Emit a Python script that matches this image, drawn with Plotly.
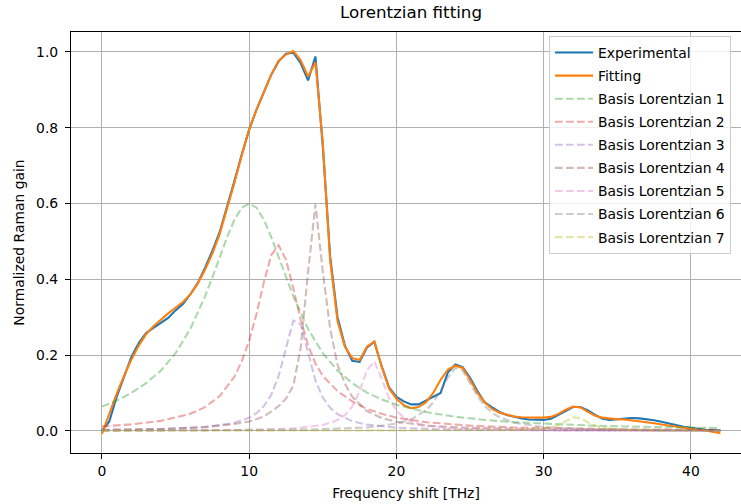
import plotly.graph_objects as go

# ---------------- data ----------------
freq = [0.0, 0.5, 1.0, 1.5, 2.0, 2.5, 3.0, 3.5, 4.0, 4.5,
        5.0, 5.5, 6.0, 6.5, 7.0, 7.5, 8.0, 8.5, 9.0, 9.5,
        10.0, 10.5, 11.0, 11.5, 12.0, 12.5, 13.0, 13.5, 14.0, 14.5,
        15.0, 15.5, 16.0, 16.5, 17.0, 17.5, 18.0, 18.5, 19.0, 19.5,
        20.0, 20.5, 21.0, 21.5, 22.0, 22.5, 23.0, 23.5, 24.0, 24.5,
        25.0, 25.5, 26.0, 26.5, 27.0, 27.5, 28.0, 28.5, 29.0, 29.5,
        30.0, 30.5, 31.0, 31.5, 32.0, 32.5, 33.0, 33.5, 34.0, 34.5,
        35.0, 35.5, 36.0, 36.5, 37.0, 37.5, 38.0, 38.5, 39.0, 39.5,
        40.0, 40.5, 41.0, 41.5, 42.0]

experimental = [0.000, 0.025, 0.090, 0.145, 0.195, 0.232, 0.258, 0.272, 0.285, 0.298,
                0.318, 0.335, 0.360, 0.390, 0.430, 0.475, 0.525, 0.590, 0.660, 0.730,
                0.795, 0.848, 0.895, 0.940, 0.975, 0.995, 0.998, 0.970, 0.925, 0.988,
                0.750, 0.460, 0.300, 0.225, 0.185, 0.182, 0.220, 0.235, 0.170, 0.115,
                0.090, 0.078, 0.070, 0.070, 0.080, 0.090, 0.100, 0.155, 0.175, 0.168,
                0.140, 0.105, 0.075, 0.062, 0.050, 0.042, 0.037, 0.033, 0.030, 0.029,
                0.029, 0.032, 0.042, 0.052, 0.063, 0.063, 0.054, 0.042, 0.032, 0.029,
                0.030, 0.032, 0.034, 0.033, 0.031, 0.028, 0.024, 0.019, 0.015, 0.011,
                0.008, 0.005, 0.003, 0.002, 0.001]

fitting = [-0.008, 0.045, 0.098, 0.145, 0.188, 0.225, 0.255, 0.276, 0.294, 0.310,
           0.325, 0.340, 0.360, 0.388, 0.425, 0.468, 0.520, 0.585, 0.655, 0.728,
           0.795, 0.848, 0.895, 0.940, 0.977, 0.993, 1.002, 0.978, 0.935, 0.972,
           0.760, 0.450, 0.290, 0.222, 0.192, 0.187, 0.222, 0.236, 0.170, 0.112,
           0.085, 0.068, 0.060, 0.063, 0.075, 0.100, 0.135, 0.162, 0.172, 0.166,
           0.135, 0.100, 0.075, 0.058, 0.048, 0.042, 0.038, 0.036, 0.035, 0.035,
           0.035, 0.037, 0.045, 0.056, 0.064, 0.062, 0.050, 0.040, 0.035, 0.032,
           0.031, 0.030, 0.028, 0.026, 0.023, 0.020, 0.017, 0.014, 0.011, 0.008,
           0.006, 0.003, 0.001, -0.002, -0.006]

b1_x = [0, 1, 2, 3, 4, 5, 6, 7, 7.5, 8, 8.5, 9, 9.5, 10, 10.5, 11, 11.5, 12, 12.5, 13,
        14, 15, 16, 17, 18, 19, 20, 22, 24, 26, 28, 30, 33, 36, 39, 42]
b1_y = [0.064, 0.080, 0.100, 0.126, 0.159, 0.205, 0.269, 0.355, 0.405, 0.459, 0.511, 0.557, 0.589, 0.600,
        0.589, 0.557, 0.511, 0.459, 0.405, 0.355, 0.269, 0.205, 0.159, 0.126, 0.101, 0.083, 0.069,
        0.0497, 0.0373, 0.029, 0.0231, 0.0189, 0.0144, 0.0113, 0.0091, 0.0075]

b2_x = [0, 2, 4, 6, 7, 8, 9, 9.5, 10, 10.5, 11, 11.5, 12, 12.5, 13, 13.5, 14, 14.5, 15,
        16, 17, 18, 19, 20, 22, 25, 28, 32, 36, 42]
b2_y = [0.012, 0.0172, 0.0264, 0.0452, 0.0627, 0.0919, 0.143, 0.184, 0.238, 0.309, 0.392, 0.464,
        0.490, 0.452, 0.375, 0.294, 0.226, 0.178, 0.145, 0.105, 0.078, 0.058, 0.045, 0.035,
        0.023, 0.014, 0.009, 0.006, 0.004, 0.0025]

b3_x = [0, 4, 7, 9, 10, 10.5, 11, 11.5, 12, 12.5, 13, 13.5, 14, 14.5, 15, 15.5, 16, 17, 18,
        20, 23, 27, 32, 42]
b3_y = [0.0023, 0.0047, 0.0102, 0.0213, 0.0349, 0.0469, 0.0654, 0.0955, 0.145, 0.220, 0.291,
        0.281, 0.204, 0.133, 0.0882, 0.061, 0.044, 0.0256, 0.0166, 0.0085, 0.0042, 0.0021,
        0.0011, 0.0005]

b4_x = [0, 4, 7, 9, 10, 11, 12, 12.5, 13, 13.5, 14, 14.5, 15, 15.5, 16, 16.5, 17, 18, 19,
        20, 22, 25, 30, 36, 42]
b4_y = [0.003, 0.005, 0.010, 0.018, 0.025, 0.038, 0.065, 0.085, 0.120, 0.220, 0.420, 0.598,
        0.420, 0.270, 0.175, 0.125, 0.090, 0.052, 0.034, 0.024, 0.014, 0.008, 0.004, 0.002, 0.001]

b5_x = [0, 6, 10, 13, 15, 16, 16.5, 17, 17.5, 18, 18.5, 19, 19.5, 20, 20.5, 21, 22, 24, 28,
        34, 42]
b5_y = [0.0006, 0.0013, 0.0027, 0.0064, 0.0154, 0.0285, 0.0417, 0.0645, 0.1045, 0.1606, 0.183,
        0.1378, 0.086, 0.0538, 0.0356, 0.0249, 0.0139, 0.006, 0.0021, 0.0008, 0.0004]

b6_x = [0, 8, 14, 18, 20, 21, 22, 22.5, 23, 23.5, 24, 24.5, 25, 25.5, 26, 26.5, 27, 28, 30,
        33, 37, 42]
b6_y = [0.0006, 0.0014, 0.0035, 0.0092, 0.019, 0.0305, 0.0542, 0.0751, 0.105, 0.141, 0.166,
        0.159, 0.1265, 0.0919, 0.0657, 0.0479, 0.0358, 0.0217, 0.0101, 0.0046, 0.0022, 0.0012]

b7_x = [0, 20, 26, 28, 29, 30, 30.5, 31, 31.5, 32, 32.5, 33, 33.5, 34, 35, 36, 38, 42]
b7_y = [0.0, 0.0003, 0.0009, 0.002, 0.0033, 0.0063, 0.0095, 0.0152, 0.0248, 0.0356, 0.034,
        0.0226, 0.0138, 0.0087, 0.0042, 0.0024, 0.0011, 0.0004]

basis = [(b1_x, b1_y), (b2_x, b2_y), (b3_x, b3_y), (b4_x, b4_y),
         (b5_x, b5_y), (b6_x, b6_y), (b7_x, b7_y)]
basis_colors = ["44,160,44", "214,39,40", "148,103,189", "140,86,75",
                "227,119,194", "127,127,127", "188,189,34"]

x_ticks = [0, 10, 20, 30, 40]
y_ticks = [0.0, 0.2, 0.4, 0.6, 0.8, 1.0]

# ---------------- figure ----------------
FONT = "DejaVu Sans"
fig = go.Figure()
fig.add_trace(go.Scatter(x=freq, y=experimental, mode="lines", name="Experimental",
                         legendgroup="g0", line=dict(color="#1f77b4", width=2.08)))
fig.add_trace(go.Scatter(x=freq, y=fitting, mode="lines", name="Fitting",
                         legendgroup="g1", line=dict(color="#ff7f0e", width=2.08)))
for i, ((bx, by), c) in enumerate(zip(basis, basis_colors)):
    fig.add_trace(go.Scatter(x=bx, y=by, mode="lines", name=f"Basis Lorentzian {i+1}",
                             legendgroup=f"g{i+2}",
                             line=dict(color=f"rgba({c},0.4)", width=2.08, dash="7.7px,3.3px")))

W, H = 741, 504
ml, mr, mt, mb = 71, 0, 32, 51
px_per_x = 14.725
px_per_y = 379.0
x_lo = -2.1
x_hi = x_lo + (W - ml - mr) / px_per_x
y_lo = -0.0583
y_hi = y_lo + (H - mt - mb) / px_per_y

axis_common = dict(
    showgrid=True, gridcolor="#b0b0b0", gridwidth=1.1,
    showline=True, linecolor="black", linewidth=1.1,
    ticks="outside", ticklen=5, tickwidth=1.1, tickcolor="black",
    zeroline=False,
    tickfont=dict(family=FONT, size=13.9, color="black"),
)

fig.update_layout(
    width=W, height=H,
    margin=dict(l=ml, r=mr, t=mt, b=mb, pad=0),
    paper_bgcolor="white", plot_bgcolor="white",
    font=dict(family=FONT, size=13.9, color="black"),
    title=dict(text="Lorentzian fitting", x=(411 - ml) / (W - ml), xref="paper",
               xanchor="center", y=1 - 12 / H, yref="container", yanchor="middle",
               font=dict(family=FONT, size=16.7, color="black")),
    xaxis=dict(range=[x_lo, x_hi], tickvals=x_ticks, mirror=True,
               ticklabelstandoff=0,
               title=dict(text="Frequency shift [THz]", standoff=10,
                          font=dict(family=FONT, size=13.9, color="black")),
               **axis_common),
    yaxis=dict(range=[y_lo, y_hi], tickvals=y_ticks, tickformat=".1f",
               ticklabelstandoff=4,
               title=dict(text="Normalized Raman gain", standoff=8,
                          font=dict(family=FONT, size=13.9, color="black")),
               **axis_common),
    legend=dict(x=(549 - ml) / (W - ml), xanchor="left",
                y=(H - mb - 36) / (H - mt - mb), yanchor="top",
                bgcolor="rgba(255,255,255,0.8)", bordercolor="#cccccc", borderwidth=1,
                font=dict(family=FONT, size=13.9, color="black"),
                tracegroupgap=2, itemwidth=38),
    showlegend=True,
)

fig.write_html("out.html")
